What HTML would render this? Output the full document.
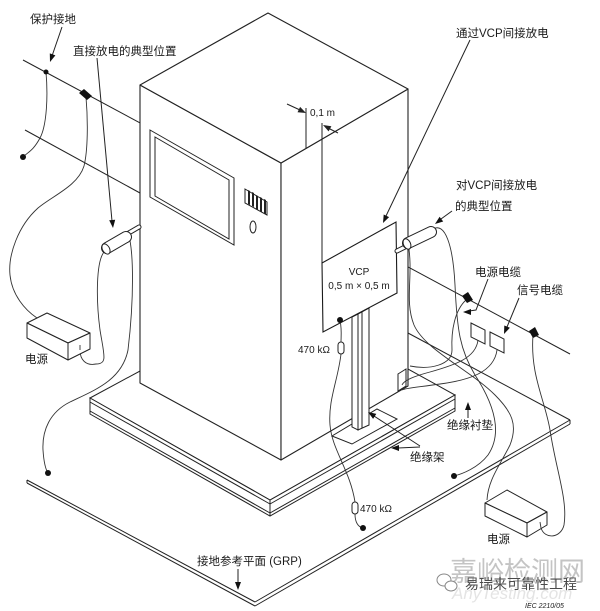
<!DOCTYPE html>
<html><head><meta charset="utf-8"><style>
html,body{margin:0;padding:0;background:#fff;}
svg{display:block;}
text{font-family:"Liberation Sans","Noto Sans CJK SC",sans-serif;fill:#1a1a1a;}
</style></head><body>
<svg width="600" height="611" viewBox="0 0 600 611" xmlns="http://www.w3.org/2000/svg">
<rect width="600" height="611" fill="#fff"/>
<g stroke="#222" stroke-width="1" fill="none">
 <!-- GRP -->
 <line x1="27" y1="480" x2="255" y2="602"/>
 <line x1="27" y1="483" x2="255" y2="606"/>
 <line x1="27" y1="480" x2="27" y2="483"/>
 <line x1="255" y1="602" x2="570" y2="420"/>
 <line x1="255" y1="606" x2="570" y2="424"/>
 <line x1="570" y1="420" x2="570" y2="424"/>
 <line x1="408" y1="333" x2="570" y2="420"/>
 <!-- earth line & second line -->
 <line x1="23" y1="60" x2="570" y2="354"/>
 <line x1="25" y1="130" x2="140" y2="193"/>
</g>
<!-- platform -->
<g stroke="#222" stroke-width="1">
 <polygon points="90,398 140,371 408,369 455,395 270,500" fill="#fff"/>
 <polygon points="90,398 270,500 455,395 455,411 270,516 90,414" fill="#fff"/>
 <g fill="none">
  <line x1="90" y1="402" x2="270" y2="504"/>
  <line x1="90" y1="411" x2="270" y2="513"/>
  <line x1="270" y1="504" x2="455" y2="399"/>
  <line x1="270" y1="513" x2="455" y2="408"/>
  <line x1="270" y1="500" x2="270" y2="516"/>
 </g>
</g>
<!-- cabinet -->
<g stroke="#222" stroke-width="1.1" fill="#fff" stroke-linejoin="round">
 <polygon points="140,85 281,163 281,460 140,383"/>
 <polygon points="281,163 408,89 408,386 281,460"/>
 <polygon points="140,85 268,13 408,89 281,163"/>
</g>
<!-- cabinet details -->
<g stroke="#222" stroke-width="1" fill="none">
 <polygon points="150,130 234,178 234,245 150,197"/>
 <polygon points="155,137 229,180 229,239 155,196"/>
 <polygon points="245,189 267,202 267,215 245,203"/>
 <ellipse cx="253" cy="227" rx="3" ry="6"/>
 <line x1="306" y1="108" x2="306" y2="148"/>
 <line x1="322" y1="123" x2="322" y2="263"/>
 <line x1="287" y1="104" x2="300" y2="110"/>
 <line x1="338" y1="133" x2="328" y2="128"/>
</g>
<g fill="#222">
 <polygon points="248,190 250,191 250,205 248,204"/>
 <polygon points="252,192 254,193 254,207 252,206"/>
 <polygon points="256,195 258,196 258,210 256,209"/>
 <polygon points="260,197 262,198 262,212 260,211"/>
 <polygon points="264,199 266,200 266,214 264,213"/>
 <polygon points="306,113 297.5,112.3 300.1,106.9"/>
 <polygon points="323,125 331.4,126.2 328.6,131.4"/>
</g>
<text x="310" y="116" font-size="10">0,1 m</text>
<!-- stand base, pole -->
<g stroke="#222" stroke-width="1" fill="#fff">
 <polygon points="332,436 352,444 397,419 377,409"/>
 <polygon points="352,317 358,314 358,430 352,427"/>
 <polygon points="358,314 369,308 369,425 358,430"/>
 <line x1="362" y1="312" x2="362" y2="428"/>
 <!-- bracket -->
 <polygon points="398,374 406,369 406,386 398,391"/>
</g>
<!-- VCP -->
<polygon points="322,263 396,222 397,293 323,332" fill="#fff" stroke="#1a1a1a" stroke-width="1.1"/>
<text x="359" y="275" font-size="10" text-anchor="middle">VCP</text>
<text x="359" y="289" font-size="10" text-anchor="middle">0,5 m × 0,5 m</text>
<!-- cables -->
<g stroke="#333" stroke-width="0.9" fill="none">
 <path d="M46,72 C48,95 47,125 40,138 S28,152 23,157"/>
 <path d="M86,97 C88,120 88,150 84,166 C78,186 52,196 38,208 C18,226 8,255 10,275 C12,295 25,310 37,318"/>
 <path d="M104,252 C96,262 96,300 100,330 C104,355 108,364 96,364 C86,366 80,360 80,350"/>
 <path d="M128,233 C134,250 134,300 128,350 C122,380 95,390 70,402 C50,412 42,430 43,450 C44,465 46,470 48,473"/>
 <path d="M433,229 C445,222 453,245 455,285 C457,330 460,350 475,375 C490,398 505,430 488,455 C478,468 462,474 454,476"/>
 <path d="M408,243 C414,275 404,300 414,325 C425,350 470,370 495,395 C512,412 518,425 510,445 C500,465 488,480 487,500"/>
 <path d="M533,335 C530,375 545,400 550,430 C556,470 568,500 564,525 C561,538 545,540 541,528"/>
 <path d="M466,300 C455,310 451,330 452,350 C452,365 430,370 410,366"/>
 <path d="M478,340 C476,358 455,365 430,372 C415,376 404,380 402,385"/>
 <path d="M497,350 C494,372 470,380 440,384 C420,387 405,388 402,390"/>
 <path d="M340,320 C342,330 341,337 341,342"/>
 <path d="M341,354 C338,380 328,400 330,425 C332,450 350,470 355,502"/>
 <path d="M355,514 C355,522 358,527 363,528"/>
</g>
<!-- resistors -->
<g stroke="#222" stroke-width="1" fill="#fff">
 <rect x="338" y="342" width="6" height="12" rx="3"/>
 <rect x="352" y="502" width="6" height="12" rx="3"/>
</g>
<text x="298" y="353" font-size="10">470 kΩ</text>
<text x="360" y="512" font-size="10">470 kΩ</text>
<!-- dots -->
<g fill="#111">
 <circle cx="46" cy="72" r="2.5"/>
 <circle cx="23" cy="157" r="3"/>
 <circle cx="48" cy="473" r="3"/>
 <circle cx="454" cy="476" r="3"/>
 <circle cx="363" cy="528" r="3"/>
 <circle cx="340" cy="320" r="3"/>
 <polygon points="79,93 84,89 92,96 87,100"/>
 <polygon points="462,296 468,292 473,300 467,303"/>
 <polygon points="529,331 535,327 539,335 533,338"/>
</g>
<!-- connector panels -->
<g stroke="#222" stroke-width="1" fill="#fff">
 <polygon points="471,323 485,330 485,344 471,337"/>
 <polygon points="490,332 504,339 504,353 490,346"/>
</g>
<!-- guns -->
<g stroke-linecap="round" fill="none">
 <line x1="127" y1="234" x2="139" y2="227" stroke="#222" stroke-width="5"/>
 <line x1="127" y1="234" x2="139" y2="227" stroke="#fff" stroke-width="3"/>
 <line x1="107" y1="248" x2="126" y2="237" stroke="#222" stroke-width="12"/>
 <line x1="107" y1="248" x2="126" y2="237" stroke="#fff" stroke-width="10"/>
 <line x1="397" y1="251" x2="407" y2="246" stroke="#222" stroke-width="5"/>
 <line x1="397" y1="251" x2="407" y2="246" stroke="#fff" stroke-width="3"/>
 <line x1="408" y1="243" x2="431" y2="232" stroke="#222" stroke-width="12"/>
 <line x1="408" y1="243" x2="431" y2="232" stroke="#fff" stroke-width="10"/>
</g>
<ellipse cx="106" cy="249" rx="3.5" ry="5.5" transform="rotate(-30 106 249)" fill="#fff" stroke="#222" stroke-width="1"/>
<ellipse cx="407" cy="244" rx="3.5" ry="5.5" transform="rotate(-25 407 244)" fill="#fff" stroke="#222" stroke-width="1"/>
<!-- boxes -->
<g stroke="#222" stroke-width="1" fill="#fff" stroke-linejoin="round">
 <polygon points="27,323 47,313 90,333 68,343"/>
 <polygon points="27,323 68,343 68,360 27,338"/>
 <polygon points="68,343 90,333 90,349 68,360"/>
 <polygon points="485,503 507,490 547,512 527,523"/>
 <polygon points="485,503 527,523 527,537 485,516"/>
 <polygon points="527,523 547,512 547,525 527,537"/>
</g>
<g stroke="#333" stroke-width="0.9" fill="none">
 <path d="M80,350 L80,345"/>
 <path d="M541,528 L540,522"/>
</g>
<!-- arrows -->
<g stroke="#222" stroke-width="1" fill="none">
 <line x1="62" y1="27" x2="52" y2="56"/>
 <line x1="97" y1="58" x2="112" y2="221"/>
 <line x1="470" y1="40" x2="386" y2="216"/>
 <line x1="452" y1="211" x2="441" y2="219"/>
 <polyline points="488,279 476,310 469,311"/>
 <line x1="519" y1="298" x2="507" y2="327"/>
 <line x1="468" y1="418" x2="468" y2="409"/>
 <line x1="420" y1="447" x2="398" y2="448"/>
 <line x1="420" y1="446" x2="374" y2="416"/>
 <line x1="238" y1="569" x2="238" y2="583"/>
</g>
<g fill="#111">
 <polygon points="50,62 55.4,55.4 49.8,53.4"/>
 <polygon points="113,228 115.2,219.7 109.2,220.3"/>
 <polygon points="383,223 389.1,217.1 383.7,214.5"/>
 <polygon points="435,224 443.2,221.5 439.6,216.7"/>
 <polygon points="463,312 471,309 471,315"/>
 <polygon points="504,334 509.9,327.8 504.3,325.5"/>
 <polygon points="468,402 465,410 471,410"/>
 <polygon points="391,448 399,445 399,451"/>
 <polygon points="368,412 376.3,413.9 373.1,418.9"/>
 <polygon points="238,590 235,582 241,582"/>
</g>
<!-- labels -->
<g font-size="11.5">
 <text x="30" y="23">保护接地</text>
 <text x="73" y="55">直接放电的典型位置</text>
 <text x="456" y="37">通过VCP间接放电</text>
 <text x="456" y="189">对VCP间接放电</text>
 <text x="455" y="210">的典型位置</text>
 <text x="475" y="276">电源电缆</text>
 <text x="517" y="294">信号电缆</text>
 <text x="447" y="429">绝缘衬垫</text>
 <text x="410" y="461">绝缘架</text>
 <text x="25" y="363">电源</text>
 <text x="487" y="543">电源</text>
 <text x="197" y="565">接地参考平面 (GRP)</text>
</g>
<!-- watermark -->
<text x="450" y="581" font-size="27" style="fill:#c4c4c4">嘉峪检测网</text>
<text x="452" y="599" font-size="17" font-style="italic" style="fill:#e4e4e4">AnyTesting.com</text>
<g stroke="#888" stroke-width="1" fill="#fff">
 <ellipse cx="444" cy="580" rx="7" ry="6"/>
 <ellipse cx="451" cy="586" rx="6" ry="5"/>
</g>
<text x="465" y="589" font-size="14" style="fill:#4a4a4a">易瑞来可靠性工程</text>
<text x="525" y="608" font-size="7" font-style="italic">IEC  2210/05</text>
</svg>
</body></html>
